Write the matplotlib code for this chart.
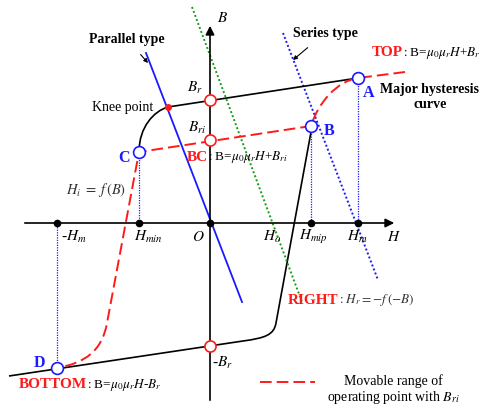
import matplotlib.pyplot as plt
from matplotlib.path import Path
from matplotlib.patches import PathPatch

plt.rcParams['font.family'] = ['Liberation Serif', 'DejaVu Serif']
plt.rcParams['mathtext.fontset'] = 'stix'

# operating points A..D on the (H, B) plane, O at origin
point_names = ["A", "B", "C", "D"]
point_H = [148, 101, -71, -153]
point_B = [145, 97, 71, -145]
point_label_H = [159, 119, -86, -171]
point_label_B = [130, 92, 65, -140]

# circles on the B axis: Br, Bri, -Br
B_marks = [123, 83, -123]
B_mark_labels = ["$B_r$", "$B_{ri}$", "-$B_r$"]
B_label_H = [-15, -13, 12]
B_label_B = [135, 95, -140]

knee_H, knee_B = -42, 116

# dots on the H axis
H_ticks = [-153, -71, 0, 101, 148]
H_labels = ["-$H_m$", "$H_{min}$", "$O$", "$H_o$", "$H_{mip}$", "$H_m$", "$H$"]
H_label_pos = [-136, -62, -12, 62, 103, 147, 184]

# major hysteresis curve pieces
top_H = [-42, 148]
top_B = [116, 145]
arc_H = [-71, -71, -56, -42]          # C -> knee (bezier)
arc_B = [71, 96, 112, 116]
lower_H = [-201, 33, 55, 64, 66, 101]  # bottom line, corner, rising branch to B
lower_B = [-153, -118, -115, -112, -100, 91]

# movable range of operating point (red dashed)
move_H = [195, 148, 127, 108, 101, -71, -103, -108, -125, -153]
move_B = [151, 145, 142, 120, 97, 71, -100, -128, -140, -145]

# load lines
parallel_H = [-64, 32]
parallel_B = [170, -79]
series_H = [73, 168]
series_B = [190, -57]
green_H = [-18, 92]
green_B = [216, -79]

fig = plt.figure(figsize=(4.85, 4.05), dpi=100)
ax = fig.add_axes([0, 0, 1, 1])
ax.set_xlim(-210, 275)
ax.set_ylim(-182, 223)
ax.axis("off")

red = "#ff1a1a"
blue = "#1a1aff"
fs = 10

# axes with arrows
ax.annotate("", xy=(187, 0), xytext=(-188, 0),
            arrowprops=dict(arrowstyle="-|>", color="k", lw=1.2, mutation_scale=13))
ax.annotate("", xy=(0, 200), xytext=(0, -180),
            arrowprops=dict(arrowstyle="-|>", color="k", lw=1.2, mutation_scale=13))

# load lines
ax.plot(green_H, green_B, color="#1a9a1a", lw=1.4, ls=(0, (1, 1.2)))
ax.plot(parallel_H, parallel_B, color=blue, lw=1.3)
ax.plot(series_H, series_B, color=blue, lw=1.4, ls=(0, (1, 1.2)))

# vertical projections
for h, b in zip(point_H, point_B):
    ax.plot([h, h], [b, 0], color=blue, lw=0.9, ls=(0, (1, 1)))

# hysteresis curve
ax.plot(top_H, top_B, color="k", lw=1.2)
arc = Path(list(zip(arc_H, arc_B)), [Path.MOVETO, Path.CURVE4, Path.CURVE4, Path.CURVE4])
ax.add_patch(PathPatch(arc, fc="none", ec="k", lw=1.2))
lower = Path(list(zip(lower_H, lower_B)),
             [Path.MOVETO, Path.LINETO, Path.CURVE4, Path.CURVE4, Path.CURVE4, Path.LINETO])
ax.add_patch(PathPatch(lower, fc="none", ec="k", lw=1.2))

# movable range
move = Path(list(zip(move_H, move_B)),
            [Path.MOVETO, Path.LINETO, Path.CURVE4, Path.CURVE4, Path.CURVE4,
             Path.LINETO, Path.LINETO, Path.CURVE4, Path.CURVE4, Path.CURVE4])
ax.add_patch(PathPatch(move, fc="none", ec=red, lw=1.4, ls=(0, (6, 2.6)), zorder=3))

# markers
ax.plot(H_ticks, [0] * len(H_ticks), "o", color="k", ms=4.5, zorder=5)
ax.plot([0] * len(B_marks), B_marks, "o", mfc="white", mec=red, mew=1.2, ms=8, zorder=6)
ax.plot(point_H, point_B, "o", mfc="white", mec=blue, mew=1.2, ms=8.5, zorder=6)
ax.plot(knee_H, knee_B, "o", color=red, ms=4, zorder=6)

# labels
for name, x, y in zip(point_names, point_label_H, point_label_B):
    ax.text(x, y, name, color=blue, fontweight="bold", fontsize=11.5, ha="center", va="center")
for lab, x, y in zip(B_mark_labels, B_label_H, B_label_B):
    ax.text(x, y, lab, fontsize=11, ha="center", va="center")
for lab, x in zip(H_labels, H_label_pos):
    ax.text(x, -14, lab, fontsize=11, ha="center", va="center")
ax.text(13, 205, "$B$", fontsize=11, ha="center", va="center")
ax.text(-87, 116, "Knee point", fontsize=10, ha="center", va="center")
ax.text(220, 126, "Major hysteresis\ncurve", fontsize=fs, fontweight="bold",
        ha="center", va="center", linespacing=1.1)
ax.text(-114, 33, r"$H_i\;=\;f\,(B)$", fontsize=10.5, color="#333333", ha="center", va="center")

ax.annotate("Parallel type", xy=(-62, 160), xytext=(-83, 184), fontsize=fs, fontweight="bold",
            ha="center", va="center",
            arrowprops=dict(arrowstyle="-|>", color="k", lw=0.8, mutation_scale=6,
                            shrinkA=6, shrinkB=0))
ax.annotate("Series type", xy=(83, 163), xytext=(115, 190), fontsize=fs, fontweight="bold",
            ha="center", va="center",
            arrowprops=dict(arrowstyle="-|>", color="k", lw=0.8, mutation_scale=6,
                            shrinkA=6, shrinkB=0))


def tagged(x, y, tag, rest, color="k"):
    t = ax.text(x, y, tag, color=red, fontweight="bold", fontsize=11, va="center")
    ax.annotate(rest, xy=(1, 0.5), xycoords=t, va="center", fontsize=9.5, color=color)


tagged(162, 170, "TOP", r": B=$\mu_0\mu_rH$+$B_r$")
tagged(-23, 66, "BC", r": B=$\mu_0\mu_rH$+$B_{ri}$")
tagged(78, -77, "RIGHT", r": $H_r=-f\,(-B)$", color="#333333")
tagged(-191, -162, "BOTTOM", r": B=$\mu_0\mu_rH$-$B_r$")

# legend
ax.plot([50, 105], [-159, -159], color=red, lw=1.4, ls=(0, (6, 2.6)))
ax.text(183, -167, "Movable range of\noperating point with $B_{ri}$", fontsize=10,
        ha="center", va="center", linespacing=1.1)

fig.savefig("out.png", dpi=100)
